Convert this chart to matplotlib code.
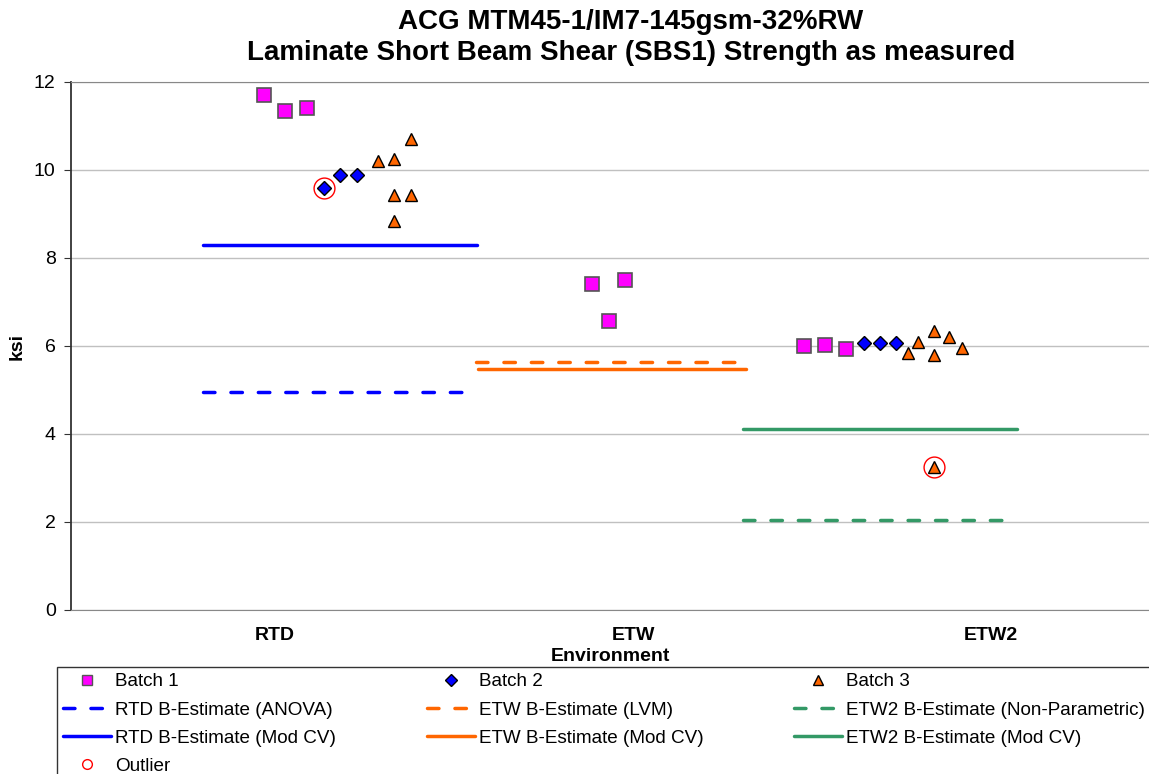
import numpy as np
import matplotlib
matplotlib.use("Agg")
import matplotlib.pyplot as plt
from matplotlib.lines import Line2D

plt.rcParams['font.family'] = ['Liberation Sans', 'DejaVu Sans']

# environment categories (x positions 1, 2, 3)
envs = ["RTD", "ETW", "ETW2"]
env_pos = [1, 2, 3]

# measured points: x position (with scatter offset) and strength in ksi
b1_x = [0.969, 1.028, 1.089, 1.885, 1.933, 1.978, 2.478, 2.536, 2.595]
b1_y = [11.70, 11.34, 11.40, 7.40, 6.56, 7.49, 6.00, 6.03, 5.94]
b2_x = [1.137, 1.182, 1.229, 2.645, 2.690, 2.735]
b2_y = [9.58, 9.88, 9.88, 6.06, 6.06, 6.06]
b3_x = [1.288, 1.332, 1.380, 1.332, 1.380, 1.332,
        2.768, 2.796, 2.841, 2.841, 2.883, 2.919, 2.841]
b3_y = [10.21, 10.24, 10.70, 9.43, 9.43, 8.85,
        5.84, 6.08, 6.35, 5.80, 6.21, 5.95, 3.25]
outlier_x = [1.137, 2.841]
outlier_y = [9.58, 3.25]

# B-estimates: value and x extent
best_names = ["RTD B-Estimate (ANOVA)", "ETW B-Estimate (LVM)",
              "ETW2 B-Estimate (Non-Parametric)",
              "RTD B-Estimate (Mod CV)", "ETW B-Estimate (Mod CV)",
              "ETW2 B-Estimate (Mod CV)"]
best_vals = [4.95, 5.63, 2.05, 8.30, 5.48, 4.11]
best_x0 = [0.80, 1.56, 2.307, 0.80, 1.567, 2.307]
best_x1 = [1.535, 2.30, 3.045, 1.564, 2.316, 3.072]
best_dashed = [True, True, True, False, False, False]
best_colors = ["#0000FF", "#FF6600", "#339966", "#0000FF", "#FF6600", "#339966"]

fig = plt.figure(figsize=(11.49, 7.74), dpi=100)
ax = fig.add_axes([71/1149, 1-610/774, 1-71/1149, (610-82)/774])

ax.set_xlim(0.43, 3.441)
ax.set_ylim(0, 12)
ax.set_yticks(np.arange(0, 13, 2))
ax.grid(axis='y', color='#C0C0C0', lw=1)
ax.set_axisbelow(True)
ax.spines['right'].set_visible(False)
ax.spines['top'].set_color('#888888')
ax.spines['bottom'].set_color('#888888')
ax.spines['left'].set_color('#333333')
ax.spines['left'].set_linewidth(1.3)

lines = {}
for name, v, x0, x1, d, c in zip(best_names, best_vals, best_x0, best_x1, best_dashed, best_colors):
    if d:
        ln, = ax.plot([x0, x1], [v, v], color=c, lw=2.5, dashes=(3.3, 4.6),
                      dash_capstyle='round', label=name)
    else:
        ln, = ax.plot([x0, x1], [v, v], color=c, lw=2.5, solid_capstyle='round', label=name)
    lines[name] = ln

ax.plot(b1_x, b1_y, 's', ms=9.5, mfc='#FF00FF', mec='#555555', mew=1.2, ls='none')
ax.plot(b2_x, b2_y, 'D', ms=7, mfc='#0000FF', mec='black', mew=1, ls='none')
ax.plot(b3_x, b3_y, '^', ms=9, mfc='#FF6600', mec='black', mew=1, ls='none')
ax.plot(outlier_x, outlier_y, 'o', ms=15, mfc='none', mec='#FF0000', mew=1, ls='none')

ax.set_xticks(env_pos)
ax.set_xticklabels(envs, fontweight='bold', fontsize=14)
ax.tick_params(axis='x', length=0, pad=12)
ax.tick_params(axis='y', labelsize=14, length=5, direction='out', color='#333333', pad=6)
ax.set_xlabel("Environment", fontweight='bold', fontsize=14, labelpad=3)
ax.set_ylabel("ksi", fontweight='bold', fontsize=14, labelpad=6)

fig.text(0.549, 0.972, "ACG MTM45-1/IM7-145gsm-32%RW", ha='center', va='center',
         fontsize=20, fontweight='bold')
fig.text(0.549, 0.931, "Laminate Short Beam Shear (SBS1) Strength as measured",
         ha='center', va='center', fontsize=20, fontweight='bold')

# legend handles with small markers
lh1 = Line2D([], [], marker='s', ms=7, mfc='#FF00FF', mec='#555555', ls='none')
lh2 = Line2D([], [], marker='D', ms=6, mfc='#0000FF', mec='black', ls='none')
lh3 = Line2D([], [], marker='^', ms=7, mfc='#FF6600', mec='black', ls='none')
lho = Line2D([], [], marker='o', ms=7, mfc='none', mec='#FF0000', ls='none')
handles = [lh1, lines[best_names[0]], lines[best_names[3]], lho,
           lh2, lines[best_names[1]], lines[best_names[4]],
           lh3, lines[best_names[2]], lines[best_names[5]]]
labels = ["Batch 1", best_names[0], best_names[3], "Outlier",
          "Batch 2", best_names[1], best_names[4],
          "Batch 3", best_names[2], best_names[5]]
leg = fig.legend(handles, labels, loc='upper left', bbox_to_anchor=(57/1149, 1-667/774),
                 ncol=3, fontsize=13.6, frameon=True, fancybox=False, edgecolor='black',
                 handlelength=2.54, handletextpad=0.21, columnspacing=4.8,
                 labelspacing=0.58, borderpad=0.33, borderaxespad=0)
leg.get_frame().set_linewidth(1)

fig.savefig("out.png", dpi=100)
